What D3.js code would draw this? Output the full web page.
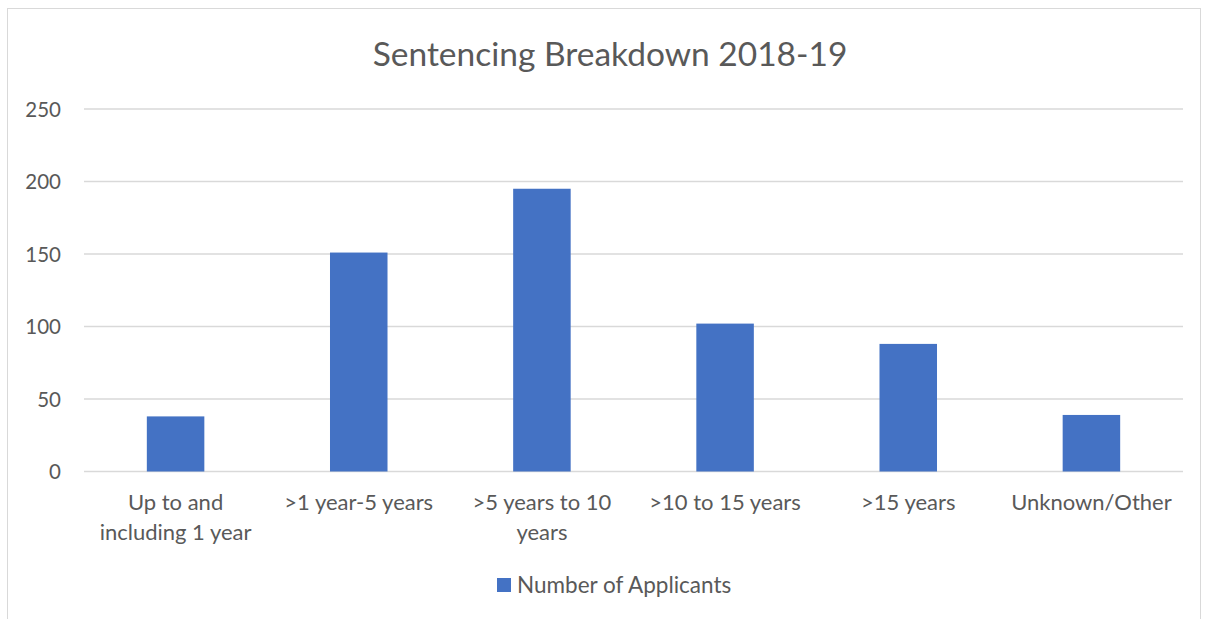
<!DOCTYPE html>
<html>
<head>
<meta charset="utf-8">
<script src="https://cdn.jsdelivr.net/npm/d3@7"></script>
<style>
  html, body { margin: 0; padding: 0; background: #fff; }
  svg { display: block; }
  text { font-family: Lato, "Open Sans", sans-serif; fill: #595959; }
</style>
</head>
<body>
<svg id="chart" width="1206" height="619"></svg>
<script>
const title = "Sentencing Breakdown 2018-19";
const categories = [
  ["Up to and", "including 1 year"],
  [">1 year-5 years"],
  [">5 years to 10", "years"],
  [">10 to 15 years"],
  [">15 years"],
  ["Unknown/Other"]
];
const values = [38, 151, 195, 102, 88, 39];
const seriesName = "Number of Applicants";
const yTicks = [0, 50, 100, 150, 200, 250];

const svg = d3.select("#chart");
const m = { left: 84, right: 1183, top: 109, bottom: 471.5 };

// chart border
svg.append("rect")
  .attr("x", 7.5).attr("y", 8.5)
  .attr("width", 1193).attr("height", 640)
  .attr("fill", "none").attr("stroke", "#d9d9d9").attr("stroke-width", 1);

const x = d3.scaleBand()
  .domain(d3.range(categories.length))
  .range([m.left, m.right])
  .paddingInner(0.686).paddingOuter(0.343);

const y = d3.scaleLinear().domain([0, 250]).range([m.bottom, m.top]);

// gridlines
svg.append("g").selectAll("line").data(yTicks).join("line")
  .attr("x1", m.left).attr("x2", m.right)
  .attr("y1", d => y(d)).attr("y2", d => y(d))
  .attr("stroke", "#d9d9d9").attr("stroke-width", 1.3);

// y axis labels
const yAxis = d3.axisLeft(y).tickValues(yTicks).tickSize(0).tickPadding(0);
const ya = svg.append("g").attr("transform", `translate(61,0)`).call(yAxis);
ya.select(".domain").remove();
ya.selectAll("text").attr("font-size", 20.5).style("font-family", "Lato, sans-serif").attr("fill", "#595959").attr("dy", "0.35em");

// bars
svg.append("g").selectAll("rect").data(values).join("rect")
  .attr("x", (d, i) => x(i))
  .attr("width", x.bandwidth())
  .attr("y", d => y(d))
  .attr("height", d => y(0) - y(d))
  .attr("fill", "#4472c4");

// category labels
const xc = d3.scaleBand().domain(d3.range(categories.length)).range([m.left, m.right]);
const cl = svg.append("g").selectAll("text").data(categories).join("text")
  .attr("x", (d, i) => xc(i) + xc.bandwidth() / 2)
  .attr("y", 510)
  .attr("text-anchor", "middle")
  .attr("font-size", 22);
cl.selectAll("tspan").data(d => d).join("tspan")
  .attr("x", function() { return d3.select(this.parentNode).attr("x"); })
  .attr("dy", (d, i) => i === 0 ? 0 : 30)
  .text(d => d);

// title
svg.append("text")
  .attr("x", 610).attr("y", 66)
  .attr("text-anchor", "middle")
  .attr("font-size", 33.5)
  .text(title);

// legend
svg.append("rect").attr("x", 497).attr("y", 578).attr("width", 14).attr("height", 14).attr("fill", "#4472c4");
svg.append("text").attr("x", 517).attr("y", 593).attr("font-size", 22.5).text(seriesName);
</script>
</body>
</html>
